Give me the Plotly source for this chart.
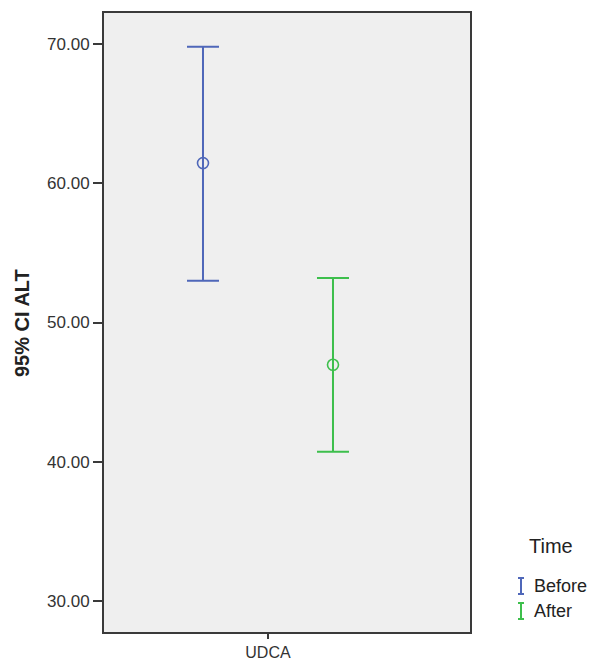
import plotly.graph_objects as go

groups = ["Before", "After"]
category = "UDCA"
means = [61.45, 46.96]
ci_lower = [52.99, 40.71]
ci_upper = [69.80, 53.20]
colors = ["#4f67b9", "#3dbf4c"]
y_ticks = [30, 40, 50, 60, 70]
dodge = [-0.5, 0.5]

W, H = 593, 663
ML, MR, MT, MB = 104, 123, 13, 31
PW, PH = W - ML - MR, H - MT - MB


def px(xp):
    return (xp - ML) / PW


def py(yp):
    return (H - MB - yp) / PH


fig = go.Figure()
for g, m, lo, hi, c, d in zip(groups, means, ci_lower, ci_upper, colors, dodge):
    fig.add_trace(go.Scatter(
        x=[d], y=[m], name=g, mode="markers", showlegend=False,
        marker=dict(symbol="circle-open", size=11, color=c, line=dict(width=1.6, color=c)),
        error_y=dict(type="data", symmetric=False, array=[hi - m], arrayminus=[m - lo],
                     color=c, thickness=2, width=16),
    ))

# manual legend (SPSS-style error-bar icons)
shapes = []
annotations = [dict(
    text="<b>95% CI ALT</b>", textangle=-90, xref="paper", yref="paper",
    x=px(22), y=py(323), xanchor="center", yanchor="middle", showarrow=False,
    font=dict(size=20, color="#222222"),
)]
annotations.append(dict(text="Time", xref="paper", yref="paper", x=px(527), y=py(546),
                        xanchor="left", yanchor="middle", showarrow=False,
                        font=dict(size=20, color="#222222")))
leg_y = [586, 611]
for g, c, yc in zip(groups, colors, leg_y):
    x0 = px(521)
    shapes.append(dict(type="line", xref="paper", yref="paper", x0=x0, x1=x0,
                       y0=py(yc - 8), y1=py(yc + 8), line=dict(color=c, width=2)))
    for yy in (yc - 8, yc + 8):
        shapes.append(dict(type="line", xref="paper", yref="paper", x0=px(518), x1=px(524),
                           y0=py(yy), y1=py(yy), line=dict(color=c, width=2)))
    annotations.append(dict(text=g, xref="paper", yref="paper", x=px(532), y=py(yc),
                            xanchor="left", yanchor="middle", showarrow=False,
                            font=dict(size=18, color="#222222")))

fig.update_layout(
    width=W, height=H,
    margin=dict(l=ML, r=MR, t=MT, b=MB),
    paper_bgcolor="white", plot_bgcolor="#efefef",
    font=dict(family="Liberation Sans, Arial, sans-serif", color="#333333"),
    showlegend=False,
    shapes=shapes,
    annotations=annotations,
    xaxis=dict(
        range=[-1.2615, 1.554], tickvals=[0], ticktext=[category], automargin=False,
        showgrid=False, zeroline=False, showline=True, linecolor="#3a3a3a", linewidth=2,
        mirror=True, ticks="outside", ticklen=5, tickwidth=2, tickcolor="#3a3a3a",
        tickfont=dict(size=16, color="#333333"),
    ),
    yaxis=dict(
        range=[27.77, 72.23], tickvals=y_ticks, ticktext=[f"{v:.2f}" for v in y_ticks],
        automargin=False,
        showgrid=False, zeroline=False, showline=True, linecolor="#3a3a3a", linewidth=2,
        mirror=True, ticks="outside", ticklen=9, tickwidth=2, tickcolor="#3a3a3a",
        tickfont=dict(size=17, color="#333333"),
    ),
)

fig.write_html("out.html")
